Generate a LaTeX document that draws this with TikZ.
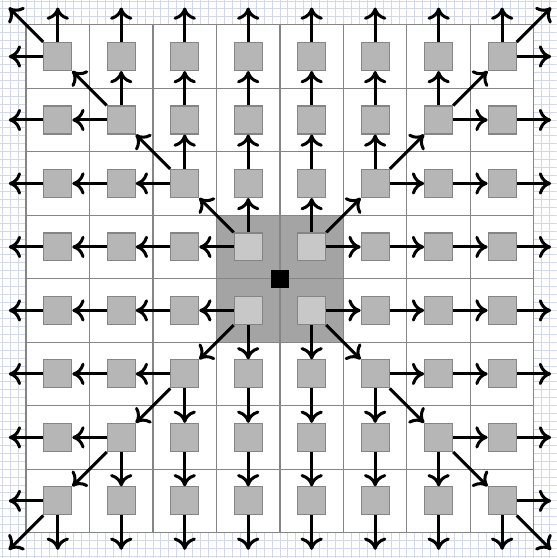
\documentclass[tikz,border=0pt]{standalone}
\usepackage{tikz}
\usetikzlibrary{arrows.meta}
\definecolor{rejillaFina}{HTML}{D3D8E6}
\definecolor{rejillaGris}{HTML}{858585}
\definecolor{cuadroGris}{HTML}{B6B6B6}
\definecolor{cuadroClaro}{HTML}{C8C8C8}
\definecolor{centroGris}{HTML}{A4A4A4}
\tikzset{
	cuadro/.style={
		draw=rejillaGris,
		fill=cuadroGris,
		line width=0.5pt,
		minimum size=0.44cm,
		inner sep=0pt
	},
	cuadroCentro/.style={
		cuadro,
		fill=cuadroClaro
	},
	fantasma/.style={
		cuadro,
		draw=none,
		fill=none
	},
	nucleo/.style={
		fill=black,
		minimum size=0.28cm,
		inner sep=0pt
	},
	flecha/.style={
		-{To[length=5.5pt,width=10pt]},
		line width=1.35pt,
		black
	}
}

\begin{document}
\begin{tikzpicture}
	\useasboundingbox (-0.41,-0.4) rectangle (8.36,8.39);
	\begin{scope}
		\clip (-0.41,-0.4) rectangle (8.36,8.39);
		\draw[rejillaFina, line width=0.4pt, step=0.125] (-0.5,-0.5) grid (8.5,8.5);
	\end{scope}
	\fill[white] (0,0) rectangle (8,8);
	\fill[centroGris] (3,3) rectangle (5,5);
	\draw[rejillaGris, line width=0.5pt] (0,0) grid (8,8);
	\foreach \i in {0,...,9}{
		\foreach \j in {0,...,9}{
			\pgfmathtruncatemacro{\dentro}{(\i>0)&&(\i<9)&&(\j>0)&&(\j<9)}
			\pgfmathtruncatemacro{\centro}{(\i>3)&&(\i<6)&&(\j>3)&&(\j<6)}
			\ifnum\dentro=1
				\ifnum\centro=1
					\node[cuadroCentro] (s-\i-\j) at (\i-0.5,\j-0.5) {};
				\else
					\node[cuadro] (s-\i-\j) at (\i-0.5,\j-0.5) {};
				\fi
			\else
				\node[fantasma] (s-\i-\j) at (\i-0.5,\j-0.5) {};
			\fi
		}
	}
	\node[nucleo] (nucleo) at (4,4) {};
	\foreach \i in {1,...,8}{
		\foreach \j in {1,...,8}{
			\pgfmathtruncatemacro{\dx}{\i<5 ? -1 : 1}
			\pgfmathtruncatemacro{\dy}{\j<5 ? -1 : 1}
			\pgfmathtruncatemacro{\a}{abs(2*\i-9)}
			\pgfmathtruncatemacro{\b}{abs(2*\j-9)}
			\pgfmathtruncatemacro{\ni}{\i+\dx}
			\pgfmathtruncatemacro{\nj}{\j+\dy}
			\pgfmathtruncatemacro{\ha}{\dx<0 ? 180 : 0}
			\pgfmathtruncatemacro{\hb}{\dx<0 ? 0 : 180}
			\pgfmathtruncatemacro{\va}{\dy<0 ? 270 : 90}
			\pgfmathtruncatemacro{\vb}{\dy<0 ? 90 : 270}
			\pgfmathtruncatemacro{\da}{\dx<0 ? (\dy<0 ? 225 : 135) : (\dy<0 ? 315 : 45)}
			\pgfmathtruncatemacro{\db}{mod(\da+180,360)}
			\ifnum\a<\b\else
				\draw[flecha] (s-\i-\j.\ha) -- (s-\ni-\j.\hb);
			\fi
			\ifnum\b<\a\else
				\draw[flecha] (s-\i-\j.\va) -- (s-\i-\nj.\vb);
			\fi
			\ifnum\a=\b
				\draw[flecha] (s-\i-\j.\da) -- (s-\ni-\nj.\db);
			\fi
		}
	}
\end{tikzpicture}
\end{document}
